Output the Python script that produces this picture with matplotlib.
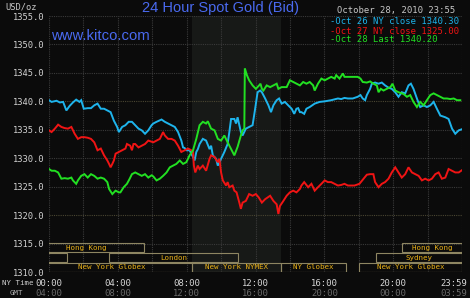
import matplotlib
matplotlib.use('Agg')
import matplotlib.pyplot as plt
from matplotlib.patches import Rectangle
import matplotlib.transforms as mtransforms

# ---------------- data ----------------
hours_oct26 = [0, 0.15, 0.44, 0.63, 0.82, 1.01, 1.2, 1.39, 1.58, 1.77, 1.87, 2.02, 2.25, 2.44, 2.63, 2.82,
               3.01, 3.2, 3.39, 3.58, 3.77, 3.96, 4.06, 4.25, 4.44, 4.63, 4.82, 5.01, 5.2, 5.39, 5.58, 5.77,
               5.96, 6.06, 6.25, 6.54, 6.73, 6.92, 7.12, 7.31, 7.5, 7.69, 7.79, 7.88, 7.98, 8.17, 8.37, 8.46,
               8.56, 8.65, 8.75, 8.94, 9.13, 9.33, 9.42, 9.52, 9.71, 9.81, 10.0, 10.19, 10.38, 10.48, 10.58,
               10.77, 10.87, 10.96, 11.15, 11.25, 11.44, 11.63, 11.83, 11.98, 12.12, 12.27, 12.37, 12.56,
               12.75, 12.9, 13.04, 13.23, 13.37, 13.52, 13.71, 13.9, 14.1, 14.25, 14.38, 14.48, 14.58, 14.67,
               14.83, 14.96, 15.15, 15.44, 15.73, 16.02, 16.4, 16.79, 16.98, 17.17, 17.37, 17.65, 17.94, 18.1,
               18.23, 18.37, 18.47, 18.66, 18.76, 18.95, 19.15, 19.34, 19.53, 19.73, 19.92, 20.12, 20.31, 20.5,
               20.7, 20.89, 21.03, 21.18, 21.38, 21.57, 21.77, 21.96, 22.16, 22.35, 22.54, 22.74, 23.03, 23.22,
               23.42, 23.61, 23.81, 24.0]
price_oct26 = [1340.2, 1339.9, 1340.1, 1339.8, 1339.9, 1338.4, 1339.2, 1339.8, 1340.3, 1339.9, 1340.2, 1338.7,
               1338.8, 1338.8, 1339.3, 1339.6, 1338.7, 1338.7, 1338.4, 1338.1, 1336.6, 1335.5, 1334.6, 1335.5,
               1335.8, 1336.4, 1336.4, 1335.8, 1335.2, 1334.9, 1334.3, 1334.9, 1335.8, 1336.1, 1336.4, 1336.8,
               1336.4, 1336.1, 1335.8, 1335.5, 1334.6, 1333.1, 1331.9, 1331.8, 1331.4, 1331.4, 1330.2, 1329.6,
               1331.1, 1331.6, 1332.5, 1333.4, 1333.1, 1331.6, 1332.2, 1330.5, 1329.9, 1328.7, 1329.9, 1331.1,
               1332.5, 1334.6, 1336.9, 1336.9, 1336.1, 1337.2, 1334.6, 1334.0, 1335.2, 1335.5, 1335.8, 1338.7,
               1341.6, 1341.9, 1341.6, 1340.5, 1339.3, 1338.1, 1339.3, 1340.2, 1340.5, 1339.6, 1339.9, 1339.3,
               1338.7, 1337.8, 1338.7, 1338.8, 1338.1, 1338.1, 1337.8, 1338.7, 1339.0, 1339.6, 1339.9, 1340.0,
               1340.2, 1340.5, 1340.4, 1340.6, 1340.5, 1340.5, 1340.8, 1341.1, 1340.5, 1340.2, 1341.1, 1342.2,
               1343.1, 1343.3, 1343.1, 1343.3, 1342.8, 1342.4, 1342.2, 1341.6, 1340.8, 1341.6, 1341.4, 1342.8,
               1343.1, 1342.2, 1340.5, 1339.0, 1339.3, 1339.0, 1339.3, 1339.9, 1338.7, 1337.5, 1337.2, 1336.9,
               1335.2, 1334.3, 1334.9, 1335.1]

hours_oct27 = [0, 0.15, 0.34, 0.53, 0.72, 0.91, 1.1, 1.3, 1.49, 1.68, 1.87, 2.06, 2.25, 2.44, 2.63, 2.82, 3.01,
               3.2, 3.39, 3.49, 3.58, 3.68, 3.77, 3.87, 4.06, 4.25, 4.44, 4.53, 4.72, 4.82, 4.91, 5.01, 5.2,
               5.39, 5.58, 5.77, 5.96, 6.06, 6.25, 6.44, 6.63, 6.73, 6.92, 7.12, 7.31, 7.5, 7.69, 7.88, 8.08,
               8.27, 8.37, 8.42, 8.5, 8.65, 8.75, 8.94, 9.13, 9.33, 9.42, 9.62, 9.81, 9.9, 10.0, 10.1, 10.29,
               10.38, 10.48, 10.67, 10.77, 10.9, 11.06, 11.15, 11.25, 11.44, 11.63, 11.83, 12.02, 12.19, 12.37,
               12.56, 12.85, 13.04, 13.23, 13.33, 13.42, 13.62, 13.81, 14.0, 14.19, 14.38, 14.58, 14.67, 14.83,
               15.06, 15.25, 15.44, 15.63, 15.83, 16.02, 16.21, 16.4, 16.6, 16.79, 16.98, 17.17, 17.37, 17.75,
               18.04, 18.23, 18.47, 18.66, 18.85, 18.95, 19.15, 19.34, 19.53, 19.73, 19.92, 20.12, 20.31, 20.5,
               20.7, 20.89, 21.09, 21.28, 21.48, 21.67, 21.86, 22.06, 22.25, 22.45, 22.64, 22.83, 23.03, 23.22,
               23.42, 23.61, 23.81, 24.0]
price_oct27 = [1334.9, 1334.6, 1335.2, 1335.9, 1335.5, 1335.3, 1335.2, 1335.5, 1334.3, 1333.4, 1333.7, 1333.7,
               1333.6, 1333.4, 1332.8, 1331.4, 1331.7, 1330.5, 1329.6, 1329.0, 1328.4, 1329.0, 1329.6, 1330.8,
               1331.1, 1331.4, 1331.7, 1332.5, 1332.2, 1331.4, 1332.5, 1332.5, 1331.9, 1332.2, 1332.5, 1333.1,
               1332.9, 1332.8, 1333.1, 1333.4, 1334.6, 1334.0, 1333.4, 1333.4, 1333.1, 1332.2, 1331.1, 1331.4,
               1331.7, 1331.4, 1331.1, 1328.7, 1327.5, 1328.7, 1328.1, 1328.7, 1327.8, 1329.9, 1330.5, 1330.2,
               1329.3, 1329.9, 1327.5, 1326.1, 1325.2, 1325.8, 1324.9, 1325.2, 1324.3, 1324.0, 1322.2, 1321.1,
               1322.2, 1322.5, 1323.7, 1323.4, 1323.7, 1323.1, 1322.2, 1322.8, 1323.4, 1322.5, 1321.9, 1320.2,
               1321.6, 1322.5, 1323.4, 1324.0, 1324.3, 1324.0, 1324.6, 1325.2, 1325.8, 1324.9, 1325.5, 1324.3,
               1324.9, 1325.5, 1326.1, 1325.8, 1325.8, 1325.5, 1325.2, 1325.3, 1325.5, 1325.2, 1325.2, 1325.5,
               1326.2, 1327.1, 1327.2, 1327.2, 1325.8, 1324.9, 1325.5, 1325.8, 1326.4, 1327.5, 1328.4, 1327.5,
               1326.6, 1327.2, 1328.4, 1327.5, 1327.2, 1326.9, 1326.1, 1326.4, 1326.1, 1326.4, 1327.2, 1327.5,
               1326.4, 1326.6, 1328.1, 1327.8, 1327.5, 1327.5, 1327.9]

hours_oct28 = [0, 0.15, 0.34, 0.53, 0.72, 0.91, 1.1, 1.3, 1.39, 1.58, 1.68, 1.87, 2.06, 2.25, 2.44, 2.63, 2.82,
               3.01, 3.2, 3.39, 3.49, 3.68, 3.87, 4.06, 4.15, 4.34, 4.53, 4.69, 4.82, 5.01, 5.2, 5.39, 5.58,
               5.77, 5.96, 6.06, 6.25, 6.44, 6.63, 6.83, 7.02, 7.21, 7.4, 7.6, 7.79, 7.98, 8.17, 8.37, 8.56,
               8.75, 8.94, 9.13, 9.23, 9.42, 9.62, 9.81, 10.0, 10.19, 10.38, 10.58, 10.77, 10.96, 11.15, 11.25,
               11.35, 11.38, 11.5, 11.63, 11.83, 12.02, 12.21, 12.29, 12.37, 12.46, 12.65, 12.85, 13.04, 13.23,
               13.33, 13.52, 13.81, 14.0, 14.19, 14.38, 14.58, 14.77, 14.96, 15.15, 15.35, 15.44, 15.63, 15.83,
               16.02, 16.21, 16.4, 16.6, 16.69, 16.88, 17.08, 17.17, 17.37, 17.65, 17.94, 18.1, 18.23, 18.47,
               18.66, 18.85, 19.05, 19.15, 19.28, 19.44, 19.63, 19.84, 19.96, 20.12, 20.31, 20.5, 20.6, 20.8,
               20.99, 21.18, 21.38, 21.57, 21.77, 21.96, 22.16, 22.35, 22.54, 22.74, 22.93, 23.13, 23.32, 23.52,
               23.71, 23.9]
price_oct28 = [1328.1, 1327.8, 1327.8, 1327.5, 1326.4, 1326.5, 1326.4, 1326.6, 1326.1, 1325.5, 1326.1, 1326.9,
               1327.2, 1326.6, 1327.2, 1326.9, 1326.4, 1326.6, 1326.4, 1325.8, 1324.6, 1323.7, 1324.3, 1324.0,
               1324.0, 1324.9, 1325.5, 1326.4, 1327.2, 1327.5, 1327.2, 1326.9, 1327.2, 1326.6, 1327.0, 1326.8,
               1326.1, 1326.4, 1326.9, 1327.5, 1328.4, 1328.7, 1329.0, 1329.6, 1329.0, 1329.3, 1330.5, 1331.4,
               1333.4, 1335.8, 1336.4, 1336.1, 1336.5, 1335.2, 1334.9, 1333.4, 1333.1, 1334.0, 1332.8, 1331.6,
               1330.5, 1332.0, 1334.0, 1334.9, 1335.2, 1345.8, 1344.6, 1343.7, 1342.8, 1342.2, 1342.8, 1343.1,
               1342.2, 1341.9, 1342.8, 1342.5, 1342.8, 1343.1, 1342.2, 1342.5, 1342.5, 1343.7, 1343.4, 1343.1,
               1342.8, 1343.4, 1343.1, 1343.4, 1342.8, 1341.9, 1343.1, 1344.0, 1343.7, 1344.0, 1344.3, 1344.0,
               1344.6, 1344.0, 1344.9, 1344.3, 1344.3, 1344.3, 1344.3, 1344.0, 1343.4, 1343.3, 1343.5, 1343.1,
               1342.8, 1341.6, 1342.2, 1341.9, 1342.2, 1342.5, 1343.1, 1341.9, 1341.6, 1341.4, 1341.3, 1340.8,
               1341.1, 1339.9, 1339.0, 1339.9, 1339.3, 1340.2, 1341.1, 1341.4, 1341.1, 1340.8, 1340.5, 1340.5,
               1340.4, 1340.5, 1340.2, 1340.2]

legend_labels = ['Oct 26 NY close 1340.30', 'Oct 27 NY close 1325.00', 'Oct 28 Last 1340.20']

ny_tick_hours = [0, 4, 8, 12, 16, 20, 24]
ny_tick_labels = ['00:00', '04:00', '08:00', '12:00', '16:00', '20:00', '23:59']
gmt_tick_labels = ['04:00', '08:00', '12:00', '16:00', '20:00', '00:00', '03:59']
price_ticks = [1310, 1315, 1320, 1325, 1330, 1335, 1340, 1345, 1350, 1355]

session_names = ['Hong Kong', 'Hong Kong', 'Sydney', 'London', 'Sydney',
                 'New York Globex', 'New York NYMEX', 'NY Globex', 'New York Globex']
session_start = [-1.2, 20.5, -4.0, 3.5, 19.0, -1.0, 8.33, 13.5, 18.0]
session_end = [5.5, 24.0, 1.05, 11.0, 24.0, 8.33, 13.5, 17.25, 24.0]
session_row = [2, 2, 1, 1, 1, 0, 0, 0, 0]

nymex_hours = [8.33, 13.5]

# ---------------- style ----------------
BG = '#0b0b0b'
MONO = ['DejaVu Sans Mono']
colors = ['#1eb4ec', '#f01414', '#22e022']
W, H = 470, 298

fig = plt.figure(figsize=(W / 100, H / 100), dpi=100, facecolor=BG)
ax = fig.add_axes([49 / W, 1 - 272 / H, 413 / W, 256 / H])
ax.set_facecolor(BG)
ax.set_xlim(0, 24)
ax.set_ylim(1310, 1355)
for s in ax.spines.values():
    s.set_visible(False)

ax.axvspan(nymex_hours[0], nymex_hours[1], color='#171917', zorder=0, lw=0)

for p in price_ticks:
    c = '#4a4632' if p in (1320, 1340) else '#3a3a3a'
    ax.axhline(p, color=c, lw=0.8, ls=(0, (1, 1)), zorder=1)
for hh in range(0, 25, 2):
    ax.axvline(hh, color='#3a3a3a', lw=0.8, ls=(0, (1, 1)), zorder=1)

ax.set_xticks([])
ax.set_yticks(price_ticks)
ax.set_yticklabels(['%.1f' % p for p in price_ticks], family=MONO, fontsize=6.3, color='#d2d2d2')
ax.tick_params(axis='y', length=0, pad=3)

# session boxes
row_h = 1.6
row_step = 1.72
for name, s0, s1, r in zip(session_names, session_start, session_end, session_row):
    y0 = 1310 + r * row_step
    ax.add_patch(Rectangle((s0, y0), s1 - s0, row_h, facecolor='none', edgecolor='#8e8662',
                           lw=0.8, zorder=3, clip_on=True))
    ax.text((s0 + s1) / 2, y0 + row_h / 2, name, ha='center', va='center', family=MONO,
            fontsize=5.4, color='#e8b018', zorder=4, clip_on=True)

# series
for hrs, prs, c in zip([hours_oct26, hours_oct27, hours_oct28],
                       [price_oct26, price_oct27, price_oct28], colors):
    ax.plot(hrs, prs, color=c, lw=1.4, zorder=5, solid_joinstyle='miter')

# x tick labels (two rows)
trans = mtransforms.blended_transform_factory(ax.transData, ax.transAxes)
for hh, ny, gmt in zip(ny_tick_hours, ny_tick_labels, gmt_tick_labels):
    dx = -8 if hh == 24 else 0
    t = mtransforms.offset_copy(trans, fig=fig, x=dx, y=0, units='dots')
    ax.text(hh, -11 / 256, ny, transform=t, ha='center', va='center', family=MONO,
            fontsize=6.4, color='#d8d8d8', clip_on=False)
    ax.text(hh, -21 / 256, gmt, transform=t, ha='center', va='center', family=MONO,
            fontsize=6.4, color='#6a6a6a', clip_on=False)
fig.text(2 / W, 1 - 283 / H, 'NY Time', ha='left', va='center', family=MONO, fontsize=5.3, color='#d0d0d0')
fig.text(16 / W, 1 - 293 / H, 'GMT', ha='center', va='center', family=MONO, fontsize=5.3, color='#b0b0b0')

# header texts
fig.text(5 / W, 1 - 7 / H, 'USD/oz', ha='left', va='center', family=MONO, fontsize=6.3, color='#c8c8c8')
fig.text(220 / W, 1 - 8 / H, '24 Hour Spot Gold (Bid)', ha='center', va='center',
         family=['Liberation Sans'], fontsize=10.5, color='#4a6af0')
fig.text(51 / W, 1 - 36 / H, 'www.kitco.com', ha='left', va='center',
         family=['Liberation Sans'], fontsize=10.7, color='#4a6af0')
fig.text(455 / W, 1 - 11 / H, 'October 28, 2010 23:55', ha='right', va='center', family=MONO,
         fontsize=6.4, color='#c8c8c8')
for i, (lab, c) in enumerate(zip(legend_labels, colors)):
    fig.text(330 / W, 1 - (22 + 9 * i) / H, '-' + lab, ha='left', va='center', family=MONO,
             fontsize=6.4, color=c)

fig.savefig('out.png', dpi=100, facecolor=BG)
